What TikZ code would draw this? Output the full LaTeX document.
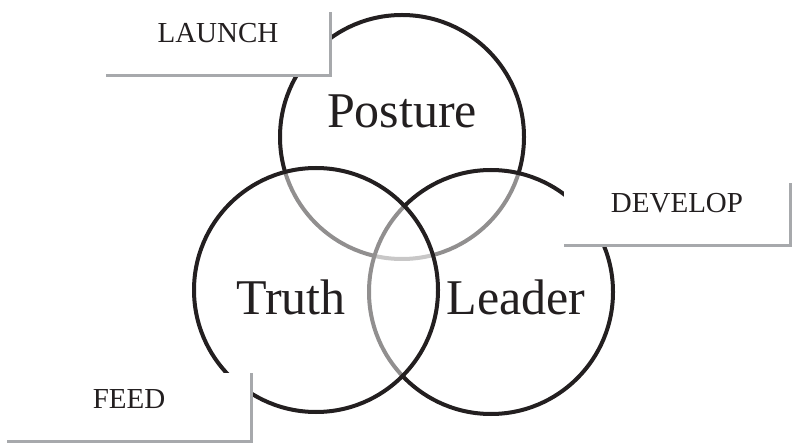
\documentclass[tikz,border=0pt]{standalone}
\usepackage{fontspec}
\setmainfont{Liberation Serif}
\definecolor{ink}{HTML}{231F20}
\definecolor{rule}{HTML}{A7A9AC}
\tikzset{
  ring/.style={draw=ink,line width=4pt,fill=white,fill opacity=0.5,draw opacity=1},
  big/.style={anchor=base,text=ink,font=\fontsize{50}{50}\selectfont},
  small/.style={anchor=base,text=ink,font=\fontsize{29}{29}\selectfont},
}
% name, left, top, right, bottom, text
\newcommand{\labelbox}[6]{%
  \fill[white] (#2,#3) rectangle (#4,#5);
  \draw[rule,line width=3pt] (#2,#5) -- (#4,#5) -- (#4,#3);
  \node[small] (#1) at ({(#2+#4)/2},#5-33) {#6};
}

\begin{document}
\begin{tikzpicture}[x=1pt,y=-1pt]
        \useasboundingbox (0,0) rectangle (792,443);
        % later rings wash out the ones under them
        \draw[ring] (402,137) circle[radius=122pt];
        \draw[ring] (491,292) circle[radius=122pt];
        \draw[ring] (316,290) circle[radius=122pt];
        \node[big] (posture) at (402,128) {Posture};
        \node[big] (truth) at (291,315) {Truth};
        \node[big] (leader) at (516,315) {Leader};
        \labelbox{launch}{106}{12}{330}{76}{LAUNCH}
        \labelbox{develop}{564}{183}{790}{246}{DEVELOP}
        \labelbox{feed}{7}{373}{251}{441}{FEED}
      \end{tikzpicture}
\end{document}
